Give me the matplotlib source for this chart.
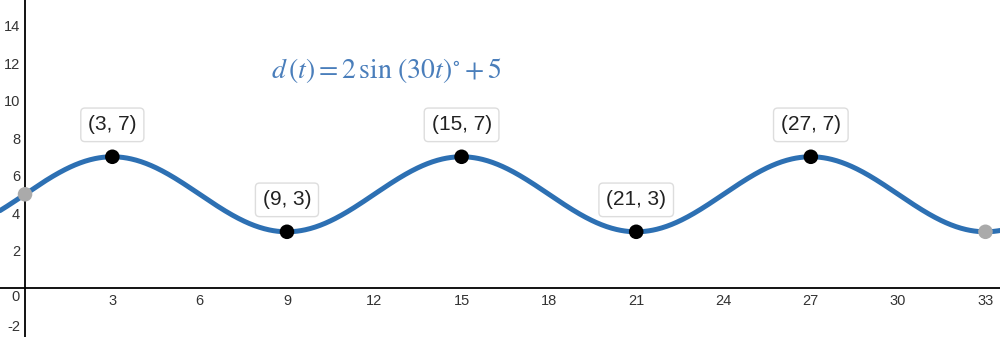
import numpy as np
import matplotlib
matplotlib.use("Agg")
import matplotlib.pyplot as plt

plt.rcParams["font.family"] = ["Liberation Sans", "DejaVu Sans"]

# Function shown in the chart: d(t) = 2 sin(30t)° + 5
amplitude = 2
deg_per_unit = 30
midline = 5

# Labeled extrema
point_x = [3, 9, 15, 21, 27]
point_y = [7, 3, 7, 3, 7]
point_labels = ["(3, 7)", "(9, 3)", "(15, 7)", "(21, 3)", "(27, 7)"]

# Gray endpoints
end_x = [0, 33]
end_y = [5, 3]

x_ticks = [3, 6, 9, 12, 15, 18, 21, 24, 27, 30, 33]
y_ticks = [-2, 2, 4, 6, 8, 10, 12, 14]

xmin, xmax = -0.86, 33.5
ymin, ymax = -2.61, 15.36

fig = plt.figure(figsize=(10, 3.37), dpi=100)
ax = fig.add_axes([0, 0, 1, 1])
ax.set_xlim(xmin, xmax)
ax.set_ylim(ymin, ymax)

for s in ["top", "right"]:
    ax.spines[s].set_visible(False)
ax.spines["left"].set_position(("data", 0))
ax.spines["bottom"].set_position(("data", 0))
ax.spines["left"].set_linewidth(1.3)
ax.spines["bottom"].set_linewidth(1.3)

ax.set_xticks(x_ticks)
ax.set_xticklabels([str(v) for v in x_ticks])
ax.set_yticks(y_ticks)
ax.set_yticklabels([str(v) for v in y_ticks])
ax.tick_params(axis="both", length=0, labelsize=10.5, labelcolor="#333333")
ax.tick_params(axis="x", pad=4)
ax.tick_params(axis="y", pad=3.5)
ax.text(-0.2, -0.5, "0", ha="right", va="center", fontsize=10.5, color="#333333")

t = np.linspace(xmin, xmax, 1000)
d = amplitude * np.sin(np.radians(deg_per_unit * t)) + midline
ax.plot(t, d, color="#2d70b3", lw=3.6, solid_capstyle="round", zorder=3)

ax.scatter(end_x, end_y, s=110, color="#aaaaaa", zorder=4, edgecolors="none")
ax.scatter(point_x, point_y, s=110, color="black", zorder=5, edgecolors="none")

for px, py, lab in zip(point_x, point_y, point_labels):
    ax.annotate(lab, (px, py), xytext=(0, 23), textcoords="offset points",
                ha="center", va="center", fontsize=15, color="#222222",
                bbox=dict(boxstyle="round,pad=0.35,rounding_size=0.2",
                          fc="white", ec="#dddddd", lw=1.0), zorder=6)

ax.text(12.4, 11.6, r"$d\,\left(t\right) = 2\,\sin\,\left(30t\right)^{\circ} + 5$",
        ha="center", va="center",
        fontsize=20, color="#4a7ebb", math_fontfamily="stix")

fig.savefig("out.png", dpi=100)
